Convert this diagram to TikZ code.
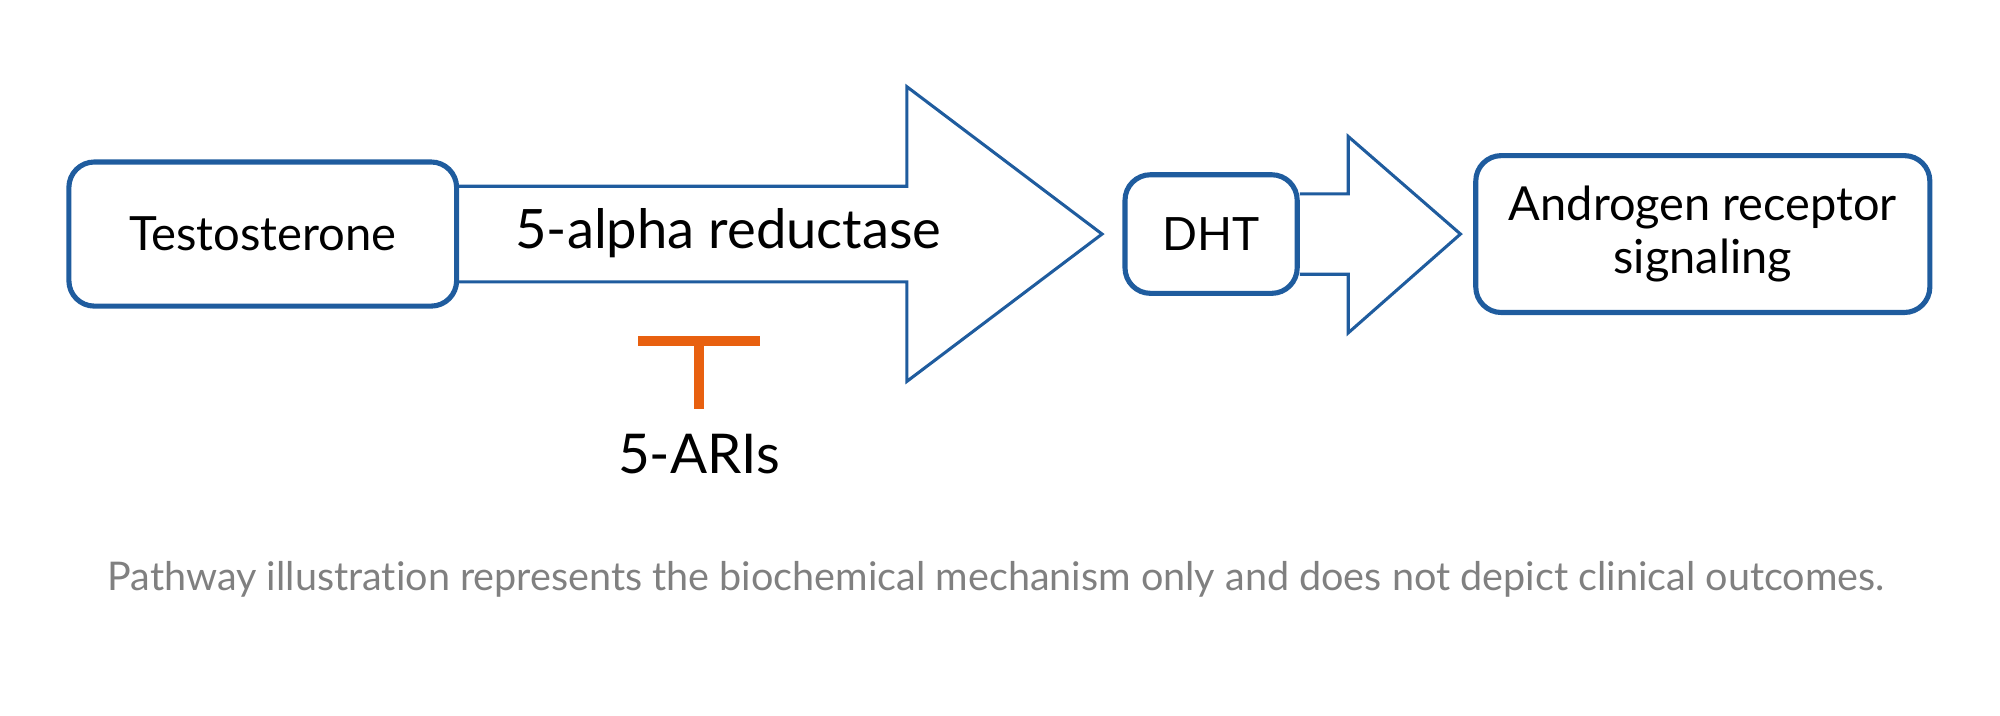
\documentclass[tikz,border=0pt]{standalone}
\usepackage{fontspec}
\setmainfont{Lato}[Ligatures=NoCommon]
\usetikzlibrary{calc}
\definecolor{bblue}{HTML}{1F5C9E}
\definecolor{iorange}{HTML}{E8600F}
\definecolor{fgray}{HTML}{808080}
\begin{document}
\begin{tikzpicture}[x=0.5pt,y=-0.5pt,
  box/.style={draw=bblue,line width=2pt,rounded corners=10pt,align=center,inner sep=0pt},
  blockarrow/.style={draw=bblue,line width=1.2pt,line join=miter},
  inhib/.style={draw=iorange,line width=3.6pt}]
\useasboundingbox (0,0) rectangle (1568,560.6);
\node[box,minimum width=152pt,minimum height=56.5pt,font=\fontsize{18.5}{22}\selectfont] (T) at (206,183.5) {Testosterone};
\node[box,minimum width=67.5pt,minimum height=46.5pt,font=\fontsize{18}{22}\selectfont] (D) at (949.5,183.5) {DHT};
\node[box,minimum width=178pt,minimum height=61.5pt,font=\fontsize{18.4}{21}\selectfont] (A) at (1335,183.5) {Androgen receptor\\signaling};
% big block arrow
\draw[blockarrow] ($(T.east)+(0,-37.5)$) -- (711,146) -- (711,68) -- ($(D.west)+(-16,0)$) -- (711,299) -- (711,221) -- ($(T.east)+(0,37.5)$);
\node[font=\fontsize{21.3}{25}\selectfont] (E) at (571,183) {5-alpha reductase};
% small block arrow
\draw[blockarrow] ($(D.east)+(0,-31.5)$) -- (1057,152) -- (1057,107) -- ($(A.west)+(-10,0)$) -- (1057,261) -- (1057,215) -- ($(D.east)+(0,31.5)$);
% inhibitor
\node[font=\fontsize{21.5}{25}\selectfont] (I) at (548,356) {5-ARIs};
\coordinate (bar) at (548,267.5);
\draw[inhib] (I.north) ++(0,-13) -- (bar);
\draw[draw=iorange,line width=4pt] ($(bar)+(-47.5,0)$) -- ($(bar)+(47.5,0)$);
\node[text=fgray,font=\fontsize{15.5}{18}\selectfont] (F) at (781,454) {Pathway illustration represents the biochemical mechanism only and does not depict clinical outcomes.};
\end{tikzpicture}
\end{document}
